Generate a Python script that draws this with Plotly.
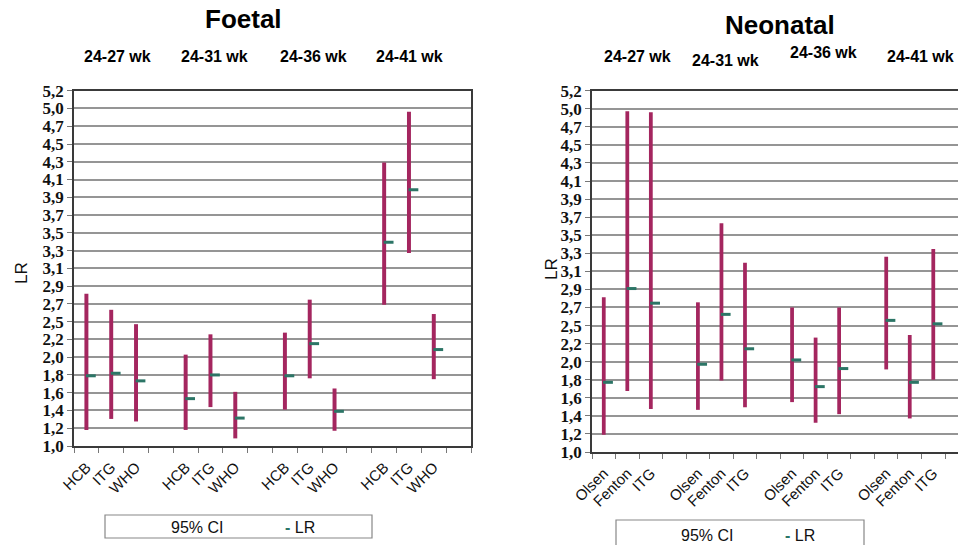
import plotly.graph_objects as go

# ---------------- data ----------------
group_labels = ["24-27 wk", "24-31 wk", "24-36 wk", "24-41 wk"]

foetal_refs = ["HCB", "ITG", "WHO"]
foetal_lower = [1.19, 1.32, 1.29, 1.19, 1.46, 1.09, 1.43, 1.80, 1.18, 2.67, 3.28, 1.79]
foetal_upper = [2.80, 2.61, 2.44, 2.08, 2.32, 1.64, 2.34, 2.73, 1.68, 4.35, 4.95, 2.56]
foetal_lr = [1.83, 1.86, 1.77, 1.56, 1.84, 1.33, 1.83, 2.21, 1.41, 3.41, 4.03, 2.14]

neonatal_refs = ["Olsen", "Fenton", "ITG"]
neonatal_lower = [1.20, 1.71, 1.50, 1.49, 1.83, 1.52, 1.58, 1.34, 1.44, 1.96, 1.39, 1.84]
neonatal_upper = [2.80, 4.96, 4.95, 2.74, 3.66, 3.20, 2.68, 2.33, 2.68, 3.27, 2.36, 3.36]
neonatal_lr = [1.81, 2.90, 2.73, 2.02, 2.60, 2.20, 2.07, 1.76, 1.97, 2.53, 1.81, 2.49]

ytick_values = [1.0 + 0.21 * i for i in range(21)]
ytick_labels = ["1,0", "1,2", "1,4", "1,6", "1,8", "2,0", "2,2", "2,5", "2,7", "2,9", "3,1",
                "3,3", "3,5", "3,7", "3,9", "4,1", "4,3", "4,5", "4,7", "5,0", "5,2"]

# ---------------- style ----------------
W, H = 958, 545
CI_COLOR = "#A4265F"
LR_COLOR = "#2C7566"
GRID = "#959595"
FRAME = "#3a3a3a"
FONT = "Liberation Sans, Arial, sans-serif"
SERIF = "Liberation Serif, Times New Roman, serif"


def px(x):
    return x / W


def py(y):
    return 1 - y / H


def positions(n_groups, n_refs):
    xs = []
    for g in range(n_groups):
        for j in range(n_refs):
            xs.append(g * (n_refs + 1) + j)
    return xs


fig = go.Figure()

panels = [
    dict(refs=foetal_refs, lower=foetal_lower, upper=foetal_upper, lr=foetal_lr,
         xa="x", ya="y"),
    dict(refs=neonatal_refs, lower=neonatal_lower, upper=neonatal_upper, lr=neonatal_lr,
         xa="x2", ya="y2"),
]

for p in panels:
    xs = positions(len(group_labels), len(p["refs"]))
    fig.add_trace(go.Bar(
        x=xs, base=p["lower"], y=[u - l for u, l in zip(p["upper"], p["lower"])],
        width=0.16, marker=dict(color=CI_COLOR, line=dict(width=0)),
        xaxis=p["xa"], yaxis=p["ya"], showlegend=False, name="95% CI"))
    fig.add_trace(go.Scatter(
        x=[x + 0.18 for x in xs], y=p["lr"], mode="markers",
        marker=dict(symbol="line-ew", size=7, line=dict(width=3, color=LR_COLOR)),
        xaxis=p["xa"], yaxis=p["ya"], showlegend=False, name="LR"))


def tick_setup(refs):
    n = len(group_labels) * (len(refs) + 1)
    vals = list(range(n))
    texts = []
    for g in range(len(group_labels)):
        texts += refs + [""]
    return vals, texts, n


fv, ft, fn = tick_setup(foetal_refs)
nv, nt, nn = tick_setup(neonatal_refs)

common_x = dict(
    tickmode="array", ticks="", tickangle=-45, showgrid=False, zeroline=False,
    showline=True, linecolor=FRAME, linewidth=1.5, mirror=True,
    tickfont=dict(family=FONT, size=15, color="#111"), ticklabelstandoff=5,
    minor=dict(ticks="outside", ticklen=5, tickcolor="#777", tick0=-0.5, dtick=1,
               showgrid=False),
    automargin=False, fixedrange=True,
)
common_y = dict(
    tickmode="array", tickvals=ytick_values, ticktext=ytick_labels, range=[1.0, 5.2],
    ticks="outside", ticklen=5, tickcolor="#777",
    showgrid=True, gridcolor=GRID, gridwidth=1.6, zeroline=False,
    showline=True, linecolor=FRAME, linewidth=1.5,
    tickfont=dict(family=SERIF, size=17, color="#111", weight="bold"),
    automargin=False, fixedrange=True,
)

fig.update_layout(
    width=W, height=H, margin=dict(l=0, r=0, t=0, b=0, autoexpand=False),
    paper_bgcolor="white", plot_bgcolor="white", barmode="overlay",
    xaxis=dict(common_x, domain=[px(74), px(471)], range=[-0.5, fn - 0.5],
               tickvals=fv, ticktext=ft, anchor="y"),
    yaxis=dict(common_y, domain=[py(446), py(90.7)], anchor="x", mirror=True),
    xaxis2=dict(common_x, domain=[px(592), 1.0], range=[-0.5, 15.05],
                tickvals=nv, ticktext=nt, anchor="y2"),
    yaxis2=dict(common_y, domain=[py(452), py(90.7)], anchor="x2", mirror=False),
)


def note(text, x, y, size, angle=0, color="#111"):
    return dict(text=text, x=px(x), y=py(y), xref="paper", yref="paper",
                xanchor="center", yanchor="middle", textangle=angle,
                showarrow=False, font=dict(family=FONT, size=size, color=color))


ann = []
ann.append(note("LR", 21, 273, 17, angle=-90))
ann.append(note("LR", 551, 269, 17, angle=-90))
ann.append(note("<b>Foetal</b>", 243, 19, 26, color="#000"))
ann.append(note("<b>Neonatal</b>", 780, 25, 26, color="#000"))
for lab, xc in zip(group_labels, [117, 214, 313, 409]):
    ann.append(note("<b>%s</b>" % lab, xc, 57, 16, color="#000"))
for lab, xc, yc in zip(group_labels, [637, 725, 823, 920], [57, 60, 53, 57]):
    ann.append(note("<b>%s</b>" % lab, xc, yc, 16, color="#000"))
lr_text = "<span style='color:%s'><b>-</b></span> LR" % LR_COLOR
ann.append(note("95% CI", 197, 527, 16))
ann.append(note(lr_text, 300, 527, 16))
ann.append(note("95% CI", 707, 535, 16))
ann.append(note(lr_text, 800, 535, 16))
fig.update_layout(annotations=ann)

shapes = [
    dict(type="rect", xref="paper", yref="paper", x0=px(105), x1=px(372), y0=py(538), y1=py(515),
         line=dict(color="#888", width=1.2), fillcolor="rgba(0,0,0,0)"),
    dict(type="rect", xref="paper", yref="paper", x0=px(616), x1=px(864), y0=py(560), y1=py(520),
         line=dict(color="#888", width=1.2), fillcolor="rgba(0,0,0,0)"),
]
fig.update_layout(shapes=shapes)

fig.write_html("out.html", config={"displayModeBar": False},
               post_script="document.body.style.margin='0';document.body.style.overflow='hidden';")
